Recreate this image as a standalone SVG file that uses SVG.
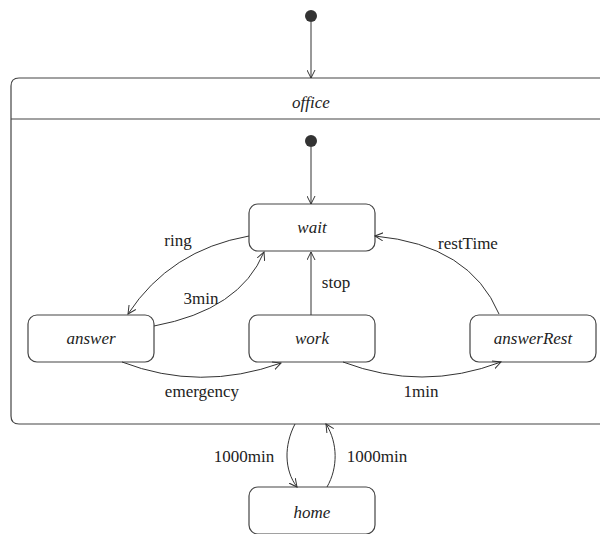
<svg xmlns="http://www.w3.org/2000/svg" width="600" height="534" viewBox="0 0 600 534">
  <defs>
    <marker id="arrow" viewBox="0 0 10 10" refX="9" refY="5" markerWidth="9" markerHeight="9" markerUnits="userSpaceOnUse" orient="auto">
      <path d="M0,0.5 L9,5 L0,9.5" fill="none" stroke="#333" stroke-width="1.1"/>
    </marker>
  </defs>
  <rect width="600" height="534" fill="#fff"/>

  <!-- outer initial pseudo-state -->
  <g id="start" fill="#333">
    <circle cx="311" cy="16" r="6"/>
  </g>

  <!-- composite state "office" -->
  <g id="office">
    <path d="M610,78 L19,78 Q11,78 11,86 L11,416 Q11,424 19,424 L610,424" fill="#fff" stroke="#444" stroke-width="1.2"/>
    <line x1="11" y1="119" x2="610" y2="119" stroke="#444" stroke-width="1.2"/>
    <text x="311" y="108" font-family="Times New Roman, Liberation Serif, serif" font-size="17" font-style="italic" text-anchor="middle" fill="#222">office</text>
  </g>

  <g id="office-start" fill="#333">
    <circle cx="311" cy="141" r="6"/>
  </g>

  <!-- simple states -->
  <g id="wait">
    <rect x="249" y="204" width="126" height="47" rx="9" fill="#fff" stroke="#444" stroke-width="1.2"/>
    <text x="312" y="233" font-family="Times New Roman, Liberation Serif, serif" font-size="17" font-style="italic" text-anchor="middle" fill="#222">wait</text>
  </g>
  <g id="answer">
    <rect x="28" y="315" width="126" height="47" rx="9" fill="#fff" stroke="#444" stroke-width="1.2"/>
    <text x="91" y="344" font-family="Times New Roman, Liberation Serif, serif" font-size="17" font-style="italic" text-anchor="middle" fill="#222">answer</text>
  </g>
  <g id="work">
    <rect x="249" y="315" width="126" height="47" rx="9" fill="#fff" stroke="#444" stroke-width="1.2"/>
    <text x="312" y="344" font-family="Times New Roman, Liberation Serif, serif" font-size="17" font-style="italic" text-anchor="middle" fill="#222">work</text>
  </g>
  <g id="answerRest">
    <rect x="470" y="315" width="126" height="47" rx="9" fill="#fff" stroke="#444" stroke-width="1.2"/>
    <text x="533" y="344" font-family="Times New Roman, Liberation Serif, serif" font-size="17" font-style="italic" text-anchor="middle" fill="#222">answerRest</text>
  </g>
  <g id="home">
    <rect x="249" y="487" width="126" height="47" rx="9" fill="#fff" stroke="#444" stroke-width="1.2"/>
    <text x="312" y="518" font-family="Times New Roman, Liberation Serif, serif" font-size="17" font-style="italic" text-anchor="middle" fill="#222">home</text>
  </g>

  <!-- transitions -->
  <g id="connectors">
    <g fill="none" stroke="#333" stroke-width="1" marker-end="url(#arrow)">
      <path d="M311,22 L311,78"/>
      <path d="M311,147 L311,204"/>
      <path d="M249,236 Q170,250 128,314"/>
      <path d="M154,326 Q240,310 264,252"/>
      <path d="M311,315 L311,252"/>
      <path d="M499,314 Q470,245 375,236"/>
      <path d="M122,362 Q200,392 281,363"/>
      <path d="M343,362 Q422,392 501,362"/>
      <path d="M295,424 C284,445 284,470 297,487"/>
      <path d="M327,487 C338,468 338,443 326,424"/>
    </g>
    <text x="178" y="246" font-family="Times New Roman, Liberation Serif, serif" font-size="17" text-anchor="middle" fill="#222">ring</text>
    <text x="201" y="304" font-family="Times New Roman, Liberation Serif, serif" font-size="17" text-anchor="middle" fill="#222">3min</text>
    <text x="336" y="288" font-family="Times New Roman, Liberation Serif, serif" font-size="17" text-anchor="middle" fill="#222">stop</text>
    <text x="468" y="249" font-family="Times New Roman, Liberation Serif, serif" font-size="17" text-anchor="middle" fill="#222">restTime</text>
    <text x="202" y="397" font-family="Times New Roman, Liberation Serif, serif" font-size="17" text-anchor="middle" fill="#222">emergency</text>
    <text x="421" y="397" font-family="Times New Roman, Liberation Serif, serif" font-size="17" text-anchor="middle" fill="#222">1min</text>
    <text x="244" y="462" font-family="Times New Roman, Liberation Serif, serif" font-size="17" text-anchor="middle" fill="#222">1000min</text>
    <text x="377" y="462" font-family="Times New Roman, Liberation Serif, serif" font-size="17" text-anchor="middle" fill="#222">1000min</text>
  </g>
</svg>
